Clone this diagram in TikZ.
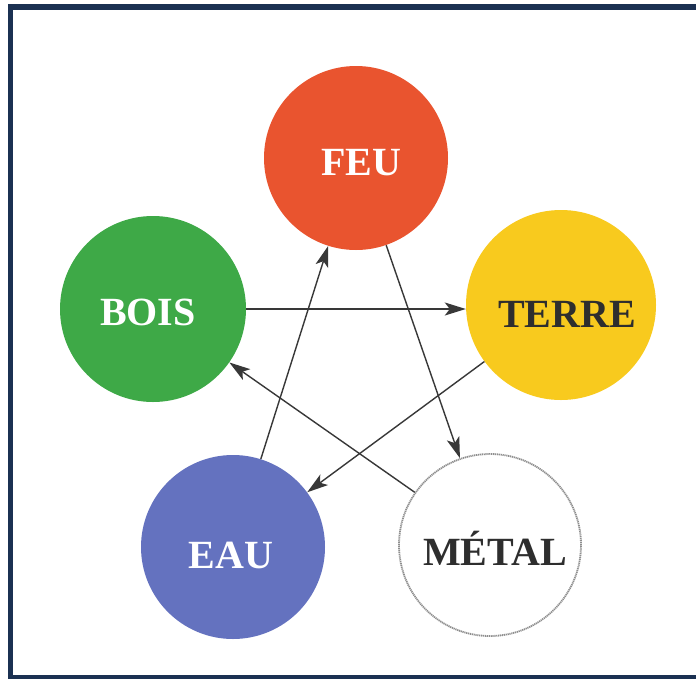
\documentclass[tikz,border=0pt]{standalone}
\usepackage{fontspec}
\setmainfont{Liberation Serif}
\usetikzlibrary{arrows.meta}
\definecolor{feuc}{HTML}{E9542F}
\definecolor{boisc}{HTML}{3EA947}
\definecolor{terrec}{HTML}{F8CA1E}
\definecolor{eauc}{HTML}{6472BF}
\definecolor{metalc}{HTML}{8E8E8E}
\definecolor{framec}{HTML}{1B3152}
\definecolor{arrowc}{HTML}{383838}
\definecolor{darktext}{HTML}{2E2E2E}
\begin{document}
\begin{tikzpicture}[x=1pt,y=-1pt,
  elem/.style={circle, minimum size=186pt, inner sep=0pt},
  lbl/.style={font=\fontsize{40}{40}\selectfont\bfseries, inner sep=0pt, anchor=base},
  flow/.style={draw=arrowc, line width=1.4pt, -{Stealth[length=21pt,width=13pt,inset=5pt]}}
]
\useasboundingbox (0,0) rectangle (696,678);
\clip (0,0) rectangle (696,678);
\fill[white] (0,0) rectangle (696,678);
\draw[draw=framec, line width=5.5pt] (10.5,7) rectangle (720,678);

\node[elem, fill=feuc, minimum size=184pt] (feu) at (356,158) {};
\node[elem, fill=boisc] (bois) at (153,309) {};
\node[elem, fill=terrec, minimum size=190pt] (terre) at (561,305) {};
\node[elem, fill=eauc, minimum size=184pt] (eau) at (233,547) {};
\node[elem, fill=white, draw=metalc, dash pattern=on 1.2pt off 0.7pt, line width=1.8pt, minimum size=182pt] (metal) at (490,545) {};

\node[lbl, text=white] (feut) at (361,175) {FEU};
\node[lbl, text=white] (boist) at (148,325) {BOIS};
\node[lbl, text=darktext] (terret) at (567,327) {TERRE};
\node[lbl, text=white] (eaut) at (231,568) {EAU};
\node[lbl, text=darktext] (metalt) at (495,565) {MÉTAL};

\draw[flow] (bois.east) -- (bois.east -| terre.west);
\draw[flow] (feu) -- (metal);
\draw[flow] (terre) -- (eau);
\draw[flow] (metal) -- (bois);
\draw[flow] (eau) -- (feu);
\end{tikzpicture}
\end{document}
